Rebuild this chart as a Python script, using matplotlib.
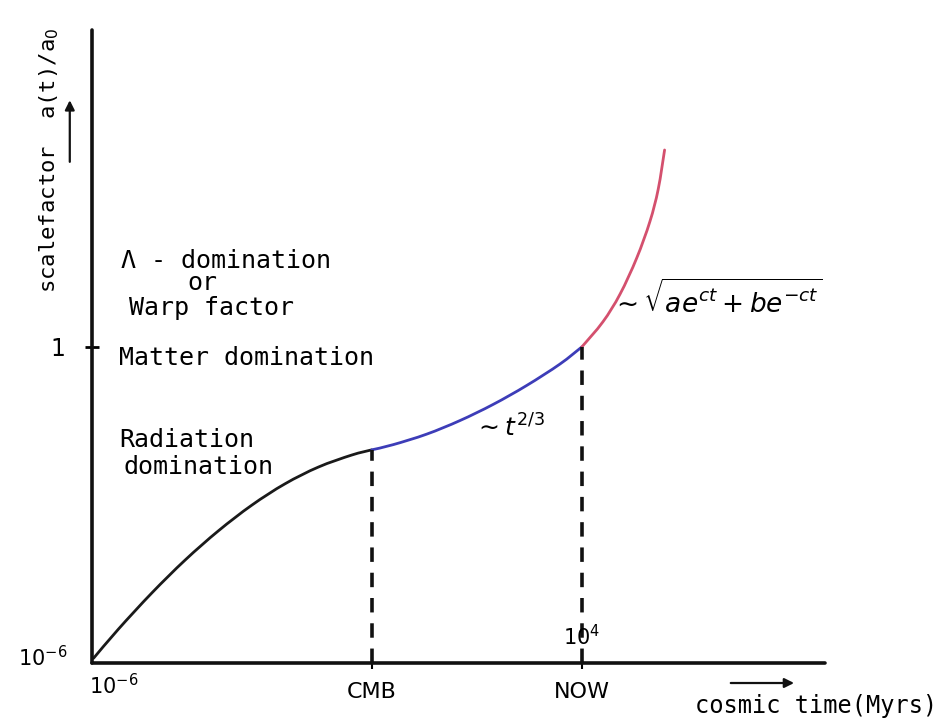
import matplotlib
matplotlib.use("Agg")
import matplotlib.pyplot as plt
from matplotlib.path import Path
from matplotlib.patches import PathPatch, FancyArrowPatch

# Schematic expansion history: log10(cosmic time / Myr) vs log10(a/a0)
rad_t = [-5.97, -5.46, -4.78, -4.10, -3.42, -2.74, -2.06, -1.38, -0.70, -0.29]
rad_a = [-5.96, -5.40, -4.71, -4.08, -3.52, -3.03, -2.62, -2.30, -2.07, -1.97]

mat_t = [-0.29, 0.15, 0.83, 1.51, 2.19, 2.87, 3.55, 4.00]
mat_a = [-1.97, -1.87, -1.67, -1.41, -1.10, -0.74, -0.33, 0.00]

lam_t = [4.00, 4.43, 4.78, 5.12, 5.39, 5.56, 5.69]
lam_a = [0.00, 0.48, 1.01, 1.70, 2.40, 3.02, 3.77]

t_cmb = -0.29
t_now = 4.0
a_cmb = -1.97
a_now = 0.0

x_tick_pos = [t_cmb, t_now]
x_tick_labels = ["CMB", "NOW"]

HAND = "DejaVu Sans Mono"
FONT = "DejaVu Sans"


def smooth_path(xs, ys):
    """Catmull-Rom spline through the points, expressed as cubic Beziers."""
    pts = list(zip(xs, ys))
    verts = [pts[0]]
    codes = [Path.MOVETO]
    n = len(pts)
    for i in range(n - 1):
        p0 = pts[i - 1] if i > 0 else pts[i]
        p1 = pts[i]
        p2 = pts[i + 1]
        p3 = pts[i + 2] if i + 2 < n else pts[i + 1]
        c1 = (p1[0] + (p2[0] - p0[0]) / 6, p1[1] + (p2[1] - p0[1]) / 6)
        c2 = (p2[0] - (p3[0] - p1[0]) / 6, p2[1] - (p3[1] - p1[1]) / 6)
        verts += [c1, c2, p2]
        codes += [Path.CURVE4] * 3
    return Path(verts, codes)


fig = plt.figure(figsize=(9.43, 7.22), dpi=100)
ax = fig.add_axes([0.0976, 0.0817, 0.777, 0.877])
ax.set_xlim(-6.0, 8.96)
ax.set_ylim(-6.05, 6.07)

for side in ("top", "right"):
    ax.spines[side].set_visible(False)
for side in ("left", "bottom"):
    ax.spines[side].set_linewidth(2.6)
    ax.spines[side].set_color("#111111")
    ax.spines[side].set_capstyle("round")

ax.set_xticks(x_tick_pos)
ax.set_xticklabels(x_tick_labels, fontsize=16, family=FONT)
ax.set_yticks([a_now])
ax.set_yticklabels(["1"], fontsize=17, family=FONT)
ax.tick_params(axis="x", direction="inout", length=8, width=1.5, pad=10)
ax.tick_params(axis="y", direction="inout", length=10, width=2, pad=14)

# Expansion curve, one colour per epoch
for xs, ys, col in ((rad_t, rad_a, "#1a1a1a"),
                    (mat_t, mat_a, "#3d3db8"),
                    (lam_t, lam_a, "#d4506e")):
    ax.add_patch(PathPatch(smooth_path(xs, ys), facecolor="none",
                           edgecolor=col, lw=2.0, capstyle="round"))

# Dashed markers for the CMB and today
ax.plot([t_cmb, t_cmb], [-6.05, a_cmb], color="#111111", lw=2.6,
        dashes=(4, 3))
ax.plot([t_now, t_now], [-6.05, a_now], color="#111111", lw=2.6,
        dashes=(4, 3))

# Axis end labels
ax.text(-5.55, -6.25, r"$10^{-6}$", fontsize=15, ha="center", va="top",
        family=FONT)
ax.text(-6.5, -5.95, r"$10^{-6}$", fontsize=15, ha="right", va="center",
        family=FONT)
ax.text(4.0, -5.78, r"$10^{4}$", fontsize=15, ha="center", va="bottom",
        family=FONT)

# Epoch annotations
ax.text(-5.4, 1.65, "Λ - domination", fontsize=18, family=HAND, va="center")
ax.text(-4.05, 1.22, "or", fontsize=18, family=HAND, va="center")
ax.text(-5.25, 0.75, "Warp factor", fontsize=18, family=HAND, va="center")
ax.text(-5.45, -0.22, "Matter domination", fontsize=18, family=HAND,
        va="center")
ax.text(-5.45, -1.78, "Radiation", fontsize=18, family=HAND, va="center")
ax.text(-5.35, -2.30, "domination", fontsize=18, family=HAND, va="center")
ax.text(1.8, -1.55, r"$\sim t^{2/3}$", fontsize=18, family=FONT,
        va="center")
ax.text(4.6, 0.90, r"$\sim\sqrt{a e^{ct} + b e^{-ct}}$", fontsize=19,
        family=FONT, va="center")

# Axis titles with arrows
fig.text(0.052, 0.778, "scalefactor  a(t)/a$_0$", rotation=90, fontsize=16,
         ha="center", va="center", family=HAND)
fig.add_artist(FancyArrowPatch(
    (0.074, 0.772), (0.074, 0.865), transform=fig.transFigure,
    arrowstyle="-|>", mutation_scale=14, lw=1.6, color="#111111"))
fig.text(0.994, 0.022, "cosmic time(Myrs)", fontsize=17, ha="right",
         va="center", family=HAND)
fig.add_artist(FancyArrowPatch(
    (0.772, 0.054), (0.845, 0.054), transform=fig.transFigure,
    arrowstyle="-|>", mutation_scale=14, lw=1.6, color="#111111"))

fig.savefig("out.png", dpi=100, facecolor="white")
